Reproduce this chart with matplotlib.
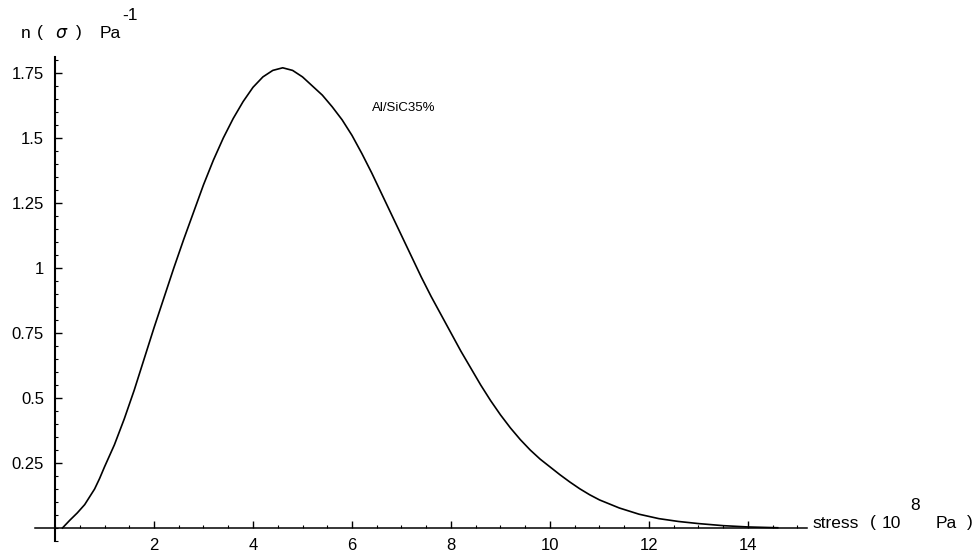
import matplotlib
matplotlib.use('Agg')
import matplotlib.pyplot as plt
import matplotlib.ticker as mticker

plt.rcParams['font.family'] = ['Liberation Sans', 'DejaVu Sans']

stress = [0.15, 0.3, 0.45, 0.6, 0.8, 0.9, 1.0, 1.2, 1.4, 1.6, 1.8, 2.0,
          2.2, 2.4, 2.6, 2.8, 3.0, 3.2, 3.4, 3.6, 3.8, 4.0, 4.2, 4.4, 4.6,
          4.8, 5.0, 5.2, 5.4, 5.6, 5.8, 6.0, 6.2, 6.4, 6.6, 6.8, 7.0, 7.2,
          7.4, 7.6, 7.8, 8.0, 8.2, 8.4, 8.6, 8.8, 9.0, 9.2, 9.4, 9.6, 9.8,
          10.0, 10.2, 10.4, 10.6, 10.8, 11.0, 11.4, 11.8, 12.2, 12.6, 13.0,
          13.5, 14.0, 14.6]
density = [0.0, 0.03, 0.058, 0.09, 0.15, 0.19, 0.235, 0.32, 0.42, 0.53,
           0.65, 0.77, 0.885, 1.0, 1.11, 1.215, 1.32, 1.415, 1.50, 1.575,
           1.64, 1.695, 1.735, 1.76, 1.77, 1.76, 1.735, 1.70, 1.665, 1.62,
           1.57, 1.51, 1.44, 1.365, 1.285, 1.205, 1.125, 1.045, 0.965, 0.89,
           0.82, 0.75, 0.68, 0.615, 0.55, 0.49, 0.435, 0.385, 0.34, 0.30,
           0.265, 0.235, 0.205, 0.177, 0.151, 0.128, 0.108, 0.077, 0.053,
           0.036, 0.025, 0.017, 0.009, 0.004, 0.001]
xticks = [2, 4, 6, 8, 10, 12, 14]
yticks = [0.25, 0.5, 0.75, 1.0, 1.25, 1.5, 1.75]
ylabels = ['0.25', '0.5', '0.75', '1', '1.25', '1.5', '1.75']

W, H = 977, 559
fig = plt.figure(figsize=(W / 100, H / 100), dpi=100)
# x=0 at px 55, 49.5 px/unit ; y=0 at px 528, 260 px/unit
x0, x1 = -0.4, 15.2
y0, y1 = -0.05, 1.81
left = 55 + 49.5 * x0
right = 55 + 49.5 * x1
bot = 528 + 260 * (-y0)
top = 528 - 260 * y1
ax = fig.add_axes([left / W, 1 - bot / H, (right - left) / W, (bot - top) / H])
ax.set_xlim(x0, x1)
ax.set_ylim(y0, y1)

ax.plot(stress, density, color='black', lw=1.2)

for s in ['top', 'right']:
    ax.spines[s].set_visible(False)
ax.spines['left'].set_position(('data', 0))
ax.spines['bottom'].set_position(('data', 0))
ax.spines['left'].set_linewidth(1.5)
ax.spines['bottom'].set_linewidth(1.1)

ax.set_xticks(xticks)
ax.set_xticklabels([str(t) for t in xticks])
ax.set_yticks(yticks)
ax.set_yticklabels(ylabels)
ax.xaxis.set_minor_locator(mticker.MultipleLocator(0.5))
ax.yaxis.set_minor_locator(mticker.MultipleLocator(0.05))
ax.tick_params(which='major', direction='in', length=5, width=1.0,
               labelsize=12, pad=7)
ax.tick_params(which='minor', direction='in', length=2.5, width=0.8)
ax.tick_params(axis='y', pad=8)


def ftext(px, py, s, size=12.5):
    fig.text(px / W, 1 - py / H, s, fontsize=size, va='center', ha='left')


# axis captions, Mathematica style
ftext(21, 33, 'n')
ftext(37, 33, '(')
ftext(55, 33, '$\\mathit{\\sigma}$')
ftext(76, 33, ')')
ftext(100, 33, 'Pa')
ftext(122, 15, '-1')
ftext(812, 523, 'stress')
ftext(870, 523, '(')
ftext(882, 523, '10')
ftext(910, 506, '8')
ftext(936, 523, 'Pa')
ftext(967, 523, ')')

ax.text(6.4, 1.615, 'Al/SiC35%', fontsize=9.5, va='center', ha='left')

fig.savefig('out.png', dpi=100)
